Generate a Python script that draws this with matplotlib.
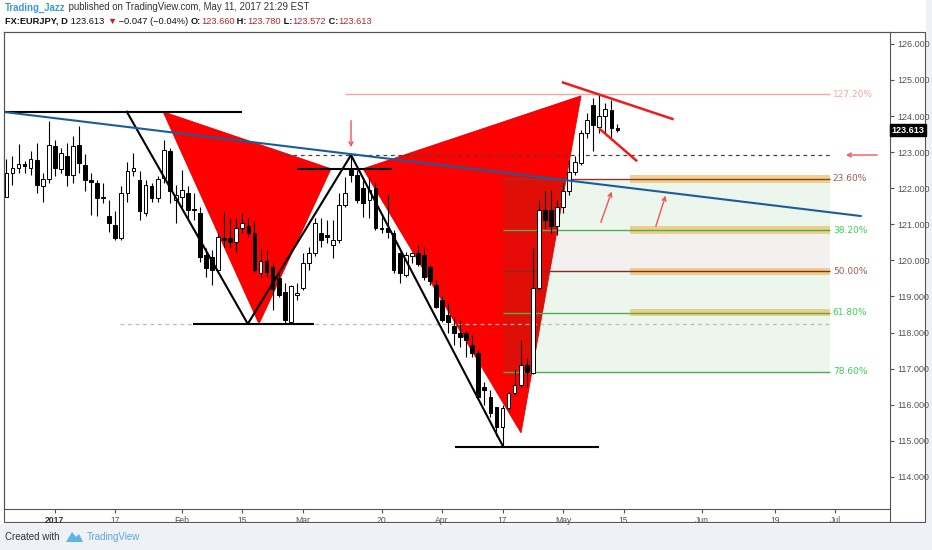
import numpy as np
import matplotlib.pyplot as plt
from matplotlib.patches import Polygon, Rectangle
from matplotlib.transforms import IdentityTransform, blended_transform_factory
from matplotlib.lines import Line2D

FONT = ["Liberation Sans", "DejaVu Sans"]

# ---- daily bars (bar index 0 = 2 Jan 2017) ----
bar_idx = np.arange(-7, 95)
opens = [121.77, 122.42, 122.56, 122.66, 122.56, 122.79, 122.07,
         122.25, 123.16, 122.53, 122.90, 122.37, 123.20, 122.65, 122.22, 122.14, 121.74,
         121.22, 120.99, 120.62, 121.86, 122.47, 122.23, 121.31, 122.05, 121.73, 122.28,
         123.02, 121.68, 121.77, 121.86, 121.42, 121.32, 120.15, 120.10, 119.74, 120.63,
         120.62, 120.52, 120.89, 120.94, 120.75, 119.64, 119.97, 119.83, 119.50, 119.13,
         118.30, 119.05, 119.23, 119.92, 120.20, 120.75, 120.70, 120.43, 120.57, 121.54,
         122.51, 122.37, 122.00, 121.68, 122.00, 120.89, 120.89, 120.75, 120.20, 119.60,
         120.11, 120.20, 120.15, 119.83, 119.32, 118.91, 118.49, 118.17, 117.98, 117.98,
         117.66, 117.43, 116.50, 116.22, 115.95, 115.39, 115.90, 116.32, 116.55, 117.10,
         116.87, 119.23, 121.40, 121.40, 120.94, 121.49, 121.91, 122.46, 122.69, 123.52,
         124.31, 123.71, 123.99, 124.17, 123.66]
highs = [122.81, 122.88, 123.23, 122.75, 123.02, 123.25, 122.42,
         123.87, 123.34, 123.11, 123.25, 123.45, 123.73, 122.95, 122.42, 122.23, 122.14,
         121.68, 121.36, 122.05, 122.74, 122.97, 122.47, 122.23, 122.14, 122.33, 123.34,
         123.11, 122.10, 122.51, 122.05, 121.86, 121.48, 120.34, 120.29, 120.76, 121.35,
         121.17, 121.17, 121.31, 121.17, 121.08, 120.34, 120.29, 119.93, 119.64, 119.37,
         119.32, 119.38, 120.20, 120.38, 121.17, 121.17, 121.12, 121.12, 121.86, 122.32,
         122.92, 122.51, 122.23, 122.28, 122.18, 121.21, 121.81, 120.84, 120.24, 120.24,
         120.24, 120.43, 120.38, 119.87, 119.46, 119.00, 118.81, 118.44, 118.31, 118.03,
         117.93, 117.52, 116.64, 116.41, 115.95, 116.00, 116.36, 116.96, 117.80, 117.29,
         120.34, 121.68, 121.91, 121.95, 121.68, 122.14, 122.79, 122.88, 123.62, 124.08,
         124.49, 124.59, 124.36, 124.45, 123.78]
lows = [121.75, 122.10, 122.42, 122.42, 122.37, 121.86, 121.63,
        122.15, 122.33, 122.42, 122.05, 122.14, 122.42, 121.91, 121.26, 121.22, 121.59,
        120.80, 120.57, 120.57, 121.63, 122.33, 121.13, 121.22, 121.63, 121.63, 122.14,
        121.59, 121.03, 121.49, 121.13, 121.12, 119.96, 119.55, 119.32, 119.65, 120.38,
        120.34, 120.24, 120.75, 120.66, 119.69, 119.55, 119.55, 118.63, 118.99, 118.26,
        118.26, 118.90, 119.18, 119.74, 120.11, 120.38, 120.48, 120.06, 120.48, 121.49,
        122.18, 121.58, 121.21, 121.17, 120.84, 120.75, 120.61, 119.64, 119.37, 119.55,
        119.92, 119.85, 119.46, 119.32, 118.67, 118.30, 117.98, 117.66, 117.61, 117.33,
        117.33, 116.18, 115.99, 115.67, 115.12, 114.84, 115.86, 116.27, 116.50, 116.50,
        116.85, 119.18, 120.89, 120.75, 120.70, 121.31, 121.81, 122.37, 122.65, 123.39,
        123.02, 123.52, 123.52, 123.34, 123.572]
closes = [122.42, 122.56, 122.68, 122.62, 122.81, 122.10, 122.25,
          123.20, 122.56, 122.97, 122.37, 123.16, 122.70, 122.23, 122.18, 121.73, 121.72,
          121.03, 120.62, 121.86, 122.47, 122.56, 121.36, 122.10, 121.73, 122.25, 123.05,
          121.91, 121.82, 121.96, 121.40, 121.39, 120.10, 119.78, 119.74, 120.66, 120.57,
          120.52, 120.89, 121.03, 120.75, 119.74, 119.97, 119.69, 119.20, 119.05, 118.35,
          119.28, 119.10, 119.92, 120.20, 121.05, 120.57, 120.66, 120.57, 121.54, 121.86,
          122.37, 121.68, 121.60, 121.95, 120.89, 120.86, 120.80, 119.74, 119.64, 120.15,
          120.20, 119.90, 119.55, 119.42, 118.72, 118.35, 118.30, 117.98, 117.89, 117.80,
          117.43, 116.22, 116.41, 115.76, 115.39, 115.90, 116.32, 116.55, 117.10, 116.92,
          119.23, 121.40, 121.12, 120.94, 121.49, 121.91, 122.46, 122.74, 123.52, 123.89,
          123.75, 123.99, 124.19, 123.66, 123.613]

# ---- drawings ----
top_line = ([-7.4, 31.9], 124.12)
low_line = ([23.8, 43.8], 118.24)
b_line = ([41.0, 56.7], 122.54)
bottom_line = ([67.2, 90.9], 114.84)
peak_dash = ([37.9, 129.1], 122.92)
low_dash = ([11.8, 129.1], 118.24)
ext_line = ([49.0, 129.1], 124.61)
trend_x, trend_y = [-7.23, 134.2], [124.11, 121.23]
zigzag_x = [12.9, 32.9, 49.96, 75.1]
zigzag_y = [124.12, 118.24, 122.92, 114.84]
tri1_x, tri1_y = [18.9, 46.65, 34.75], [124.12, 122.54, 118.24]
tri2_x, tri2_y = [51.95, 87.97, 78.06], [122.54, 124.56, 115.22]
wedge_hi = ([85.0, 103.1], [124.93, 123.92])
wedge_lo = ([91.1, 97.1], [123.64, 122.77])
arrows = [((49.96, 123.95), (49.96, 123.06)),
          ((137.4, 122.92), (131.3, 122.92)),
          ((91.1, 120.98), (93.2, 121.98)),
          ((100.2, 120.87), (102.1, 121.87))]

fib_high, fib_low = 124.55, 114.84
fib_ratios = [0.236, 0.382, 0.5, 0.618, 0.786]
fib_labels = ["23.60%", "38.20%", "50.00%", "61.80%", "78.60%"]
fib_line_col = ["#8b3a30", "#4caf50", "#8b2a20", "#4caf50", "#4caf50"]
fib_text_col = ["#a05a55", "#3fcf55", "#a05a55", "#3fcf55", "#3fcf55"]
fib_fill_col = ["#4caf50", "#8d6e63", "#4caf50", "#4caf50"]
fib_x0, fib_x1, band_x0 = 75.08, 129.1, 96.1

yticks = np.arange(114, 127)
xtick_pos = [1, 11, 22, 32, 42, 55, 65, 75, 85, 95, 108, 120, 130]
xtick_lab = ["2017", "17", "Feb", "15", "Mar", "20", "Apr", "17", "May", "15", "Jun", "19", "Jul"]

W, H = 932, 550
fig = plt.figure(figsize=(W / 100, H / 100), dpi=100)
fig.patch.set_facecolor("#eef1f5")
ident = IdentityTransform()

def top_rect(x, y, w, h, **kw):
    fig.patches.append(Rectangle((x, H - y - h), w, h, transform=ident, **kw))

def top_line_px(xs, ys, **kw):
    fig.lines.append(Line2D(xs, [H - v for v in ys], transform=ident, **kw))

top_rect(0, 0, 926, 524, facecolor="white", edgecolor="none", zorder=-5)
top_line_px([4, 925, 925, 4, 4], [32, 32, 522, 522, 32], color="#555555", lw=0.8, zorder=-4)
top_line_px([890, 890], [509, 522], color="#555555", lw=0.8, zorder=-4)

ax = fig.add_axes([4 / W, 1 - 509 / H, 886 / W, 477 / H])
ax.set_xlim(-7.40, 139.05)
ax.set_ylim(113.11, 126.33)
ax.set_facecolor("none")
for s in ax.spines.values():
    s.set_color("#555555")
    s.set_linewidth(0.8)

# red pattern triangles
ax.add_patch(Polygon(list(zip(tri1_x, tri1_y)), closed=True, fc="#ff0000", ec="#e00000", lw=0.6, zorder=1))
tri2 = Polygon(list(zip(tri2_x, tri2_y)), closed=True, fc="#ff0000", ec="#e00000", lw=0.6, zorder=1)
ax.add_patch(tri2)

# fib retracement
levels = [fib_high - r * (fib_high - fib_low) for r in fib_ratios]
for i in range(4):
    ax.add_patch(Rectangle((fib_x0, levels[i + 1]), fib_x1 - fib_x0, levels[i] - levels[i + 1],
                           fc=fib_fill_col[i], alpha=0.1, ec="none", zorder=2))
# where the fib box lies over the red pattern it reads darker
shade = Rectangle((fib_x0, levels[-1]), fib_x1 - fib_x0, levels[0] - levels[-1],
                  fc="#900000", alpha=0.14, ec="none", zorder=2)
ax.add_patch(shade)
shade.set_clip_path(tri2)
for i, lv in enumerate(levels):
    if i < 4:
        ax.add_patch(Rectangle((band_x0, lv - 0.1), fib_x1 - band_x0, 0.2, fc="#eebb55",
                               alpha=0.65, ec="none", zorder=2.5))
    ax.hlines(lv, fib_x0, fib_x1, color=fib_line_col[i], lw=1, zorder=3)
    ax.text(fib_x1 + 0.5, lv, fib_labels[i], color=fib_text_col[i], fontsize=6.5,
            va="center", ha="left", family="DejaVu Sans", zorder=6)
ax.hlines(ext_line[1], *ext_line[0], color="#f6a5a5", lw=1, zorder=3)
ax.text(fib_x1 + 0.5, ext_line[1], "127.20%", color="#f6a5a5", fontsize=6.5,
        va="center", ha="left", family="DejaVu Sans", zorder=6)

# horizontal levels
ax.hlines(peak_dash[1], *peak_dash[0], color="#444444", lw=0.9, linestyles=(0, (3, 3)), zorder=3)
ax.hlines(low_dash[1], *low_dash[0], color="#bbbbbb", lw=0.9, linestyles=(0, (3, 3)), zorder=3)
for xs, lv in [top_line, low_line, b_line, bottom_line]:
    ax.hlines(lv, *xs, color="black", lw=1.5, zorder=5)

# candles
o, h, l, c = map(np.asarray, (opens, highs, lows, closes))
ax.vlines(bar_idx, l, h, color="black", lw=0.8, zorder=4)
up = c >= o
body_lo = np.minimum(o, c)
body_h = np.maximum(np.abs(c - o), 0.03)
ax.bar(bar_idx, body_h, bottom=body_lo, width=0.62, color=np.where(up, "white", "black"),
       edgecolor="black", linewidth=0.7, zorder=4.5)

# zigzag, trend line, wedge
ax.plot(zigzag_x, zigzag_y, color="black", lw=1.5, zorder=5)
ax.plot(trend_x, trend_y, color="#1c5c9c", lw=1.5, zorder=5)
ax.plot(*wedge_hi, color="#ee1c1c", lw=1.8, zorder=5)
ax.plot(*wedge_lo, color="#ee1c1c", lw=1.8, zorder=5)
for start, end in arrows:
    ax.annotate("", xy=end, xytext=start, zorder=6,
                arrowprops=dict(arrowstyle="->", color="#f05555", lw=1, mutation_scale=7))

# axes ticks
ax.yaxis.tick_right()
ax.set_yticks(yticks)
ax.set_yticklabels([f"{v:.3f}" for v in yticks])
ax.tick_params(axis="y", length=3, width=0.8, color="#555555", labelsize=6.5,
               labelcolor="#555555", pad=2)
ax.set_xticks(xtick_pos)
ax.set_xticklabels(xtick_lab)
ax.tick_params(axis="x", length=3, width=0.8, color="#555555", labelsize=6.2,
               labelcolor="#555555", pad=2)
for lab in ax.get_xticklabels() + ax.get_yticklabels():
    lab.set_family(FONT)
ax.get_xticklabels()[0].set_fontweight("bold")
ax.get_xticklabels()[0].set_color("#333333")

last = closes[-1]
ax.text(1.002, last, f"{last:.3f}", transform=blended_transform_factory(ax.transAxes, ax.transData),
        color="white", fontsize=6.5, fontweight="bold", family=FONT, va="center", ha="left",
        bbox=dict(boxstyle="square,pad=0.2", fc="black", ec="black"), zorder=7)

# header and footer
def text_run(x, y, parts, size):
    r = fig.canvas.get_renderer()
    for s, col, bold in parts:
        t = fig.text(x, H - y, s, transform=ident, fontsize=size, color=col, family=FONT,
                     fontweight="bold" if bold else "normal", va="center", ha="left")
        x += t.get_window_extent(r).width

red = "#b0282c"
text_run(5, 7.5, [("Trading_Jazz", "#3d9ad6", True),
                  (" published on TradingView.com, May 11, 2017 21:29 EST", "#333333", False)], 6.9)
text_run(5, 21, [("FX:EURJPY, D", "#111111", True), (" 123.613 ", "#111111", False),
                 ("▼", "#c81e1e", False), (" \u22120.047 (\u22120.04%) ", "#111111", False),
                 ("O:", "#111111", True), ("123.660", red, False), (" H:", "#111111", True),
                 ("123.780", red, False), (" L:", "#111111", True), ("123.572", red, False),
                 (" C:", "#111111", True), ("123.613", red, False)], 6.7)

text_run(5, 537, [("Created with", "#333333", False)], 7)
fig.patches.append(Polygon([(66, H - 542), (72, H - 532), (76, H - 537), (79, H - 534), (83, H - 542)],
                           closed=True, transform=ident, fc="#5cb3e6", ec="none"))
text_run(87, 537, [("TradingView", "#5aa9dd", False)], 7)

fig.savefig("out.png", dpi=100, facecolor=fig.get_facecolor())
